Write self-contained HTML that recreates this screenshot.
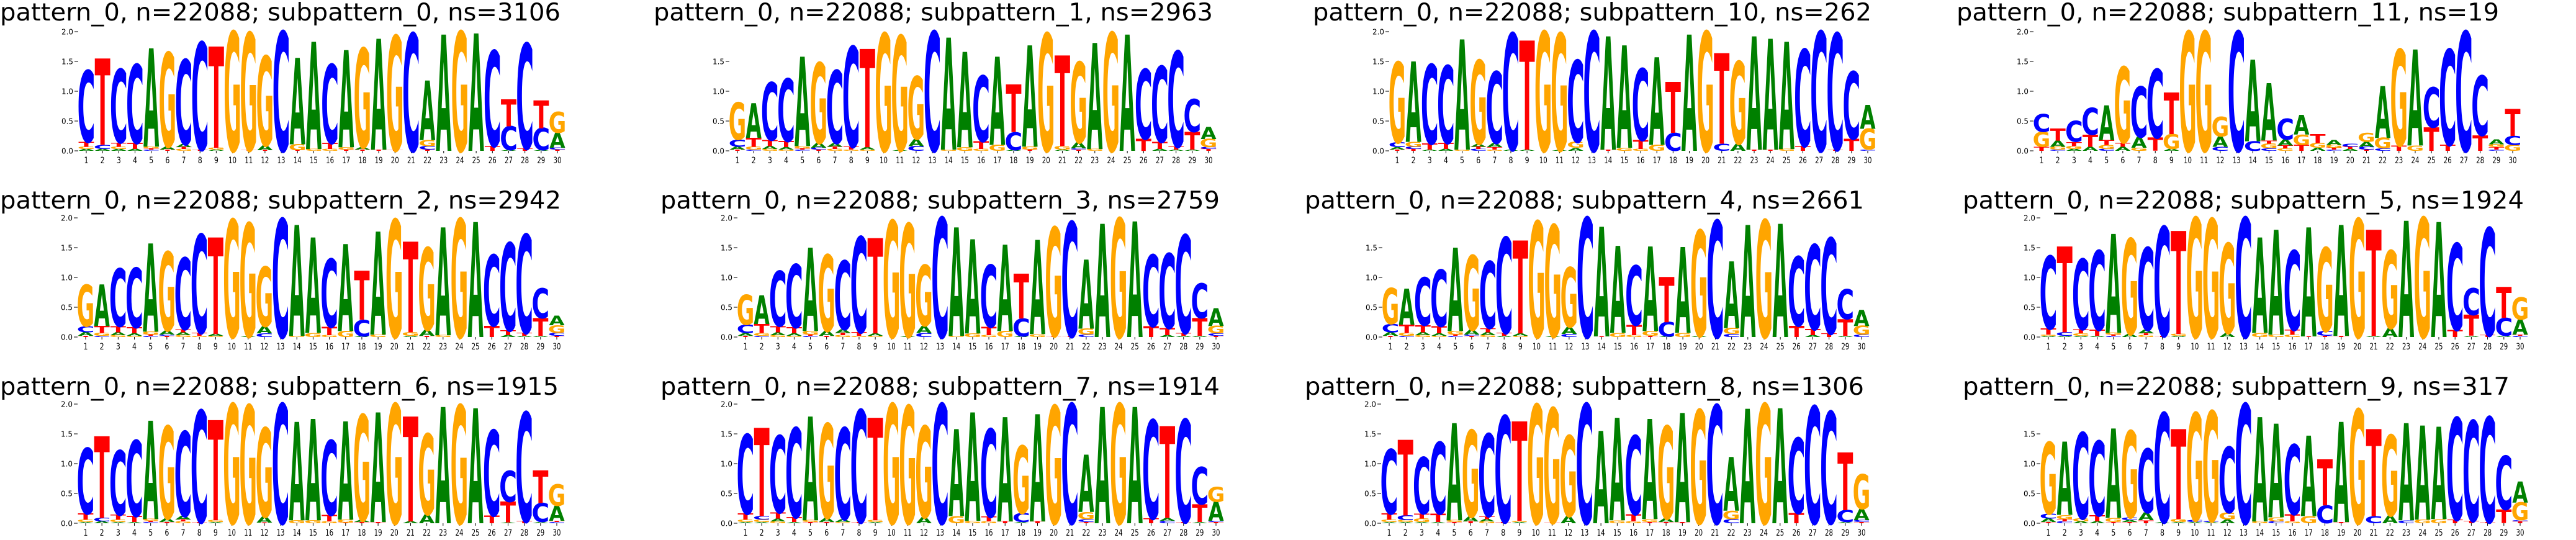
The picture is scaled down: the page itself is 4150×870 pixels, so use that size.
<!DOCTYPE html>
<html><head><meta charset="utf-8">
<style>
html,body{margin:0;padding:0;background:#fff;width:4150px;height:870px;overflow:hidden}
svg{display:block}
</style></head>
<body>
<svg id="fig" xmlns="http://www.w3.org/2000/svg" width="4150" height="870" viewBox="0 0 4150 870"></svg>
<script>
const positions = ["1","2","3","4","5","6","7","8","9","10","11","12","13","14","15","16","17","18","19","20","21","22","23","24","25","26","27","28","29","30"];
const yTickValues = [0, 0.5, 1.0, 1.5, 2.0];
const yTickLabels = ["0.0","0.5","1.0","1.5","2.0"];

const sub0 = ["A.03G.04T.08C1.2","A.03C.07T1.45","A.03G.04T.07C1.23","A.03T.1C1.32","C.02T.02G.03A1.65","T.02A.05G1.58","G.03T.03A.05C1.42","T.02C1.8","A.02G.03T1.7","G2.0","T.01G1.97","T.01A.08G1.5","C2.0","T.01G.1A1.45","G.03A1.8","G.03T.1C1.32","T.02G.04A1.63","T.02A.04G1.66","T.02A1.86","T.01G1.92","C1.97","T.02C.06G.1A1.0","A1.95","G2.0","A1.97","T.08C1.6","A.01C.4T.45","T.04C1.76","A.01C.37T.47","T.02C.03A.25G.35"];
const sub1 = ["T.02A.05C.12G.62","C.02G.05T.15A.58","G.03A.05T.1C.97","G.02A.04T.1C1.05","C.02T.02G.04A1.5","T.02C.03A.08G1.35","G.03T.04A.06C1.22","G.02T.05C1.68","G.02A.04T1.65","G1.97","A.01G1.92","C.08A.12G1.05","C2.0","G.02A1.88","G.06A1.6","G.03T.13C1.1","G.1A1.48","A.01C.3T.8","T.02G.05A1.7","G1.97","A.02G.06T1.52","T.02C.02A.1G1.35","G.03A1.78","G1.98","A1.95","T.2C1.17","A.03T.12C1.27","A.02T.05C1.6","A.02T.3C.55","T.03C.03G.14A.2"];
const sub10 = ["T.02A.04C.08G1.35","T.03C.04G.08A1.35","A.02T.1C1.33","A.03T.1C1.3","G.02A1.85","C.03T.04A.05G1.4","G.02T.04A.07C1.2","A.02C1.95","A.02T1.83","G2.0","A.01G1.96","A.05G.1C1.37","C2.0","T.02A1.9","G.05A1.72","G.03T.15C1.2","G.1A1.47","C.3T.85","A1.95","G2.0","C.12T1.52","A.12G1.38","T.02A1.9","T.02A1.86","G.03A1.8","T.08C1.62","C2.0","T.02C1.95","T.2C1.13","C.02G.35A.4"];
const sub11 = ["T.07G.25C.3","C.02G.05A.1T.2","A.03G.05T.07C.35","A.07T.2C.45","C.03G.07T.08A.58","A.07T.07G1.27","G.05A.18C.85","T.22C1.15","A.03G.25T.7","G2.0","G2.0","C.07A.17G.33","C2.0","C.16A1.37","C.04G.08T.05A.96","G.04T.05A.1C.35","T.1G.17A.33","A.05G.08T.15","C.02T.03G.05A.08","A.03T.04C.05","T.02C.05A.08G.15","C.04G.18A.87","T.09G1.61","G.09A1.61","T.39C.67","T.1C1.6","C2.0","T.26C1.0","C.02T.04G.05A.08","G.1C.15T.45"];
const sub2 = ["T.02A.06C.1G.7","C.02G.05T.12A.7","G.03A.05T.1C.97","G.02A.04T.1C1.0","C.02T.02G.05A1.48","T.02C.02A.07G1.32","G.03A.05T.05C1.2","G.02T.05C1.65","G.02A.03T1.62","G1.97","A.01G1.9","C.06A.12G1.0","C1.98","G.02A1.86","G.07A1.6","G.03T.14C1.14","G.1A1.46","A.01C.28T.82","G.04A1.73","G1.97","A.02G.06T1.52","T.02A.1G1.38","G.03A1.81","G1.98","A1.93","T.19C1.19","A.03T.08C1.47","A.02T.05C1.65","A.02T.3C.5","T.02C.05G.13A.16"];
const sub3 = ["T.02A.05C.14G.5","C.02G.05T.15A.48","G.03A.05T.1C.92","G.02A.04T.1C1.06","C.02T.02G.06A1.4","T.02A.08G1.28","G.03T.04A.06C1.15","G.02T.06C1.6","G.02A.04T1.6","G1.95","A.01G1.89","C.07A.12G1.02","C2.0","G.02A1.82","G.06A1.58","G.03T.14C1.04","G.1A1.45","A.01C.3T.75","G.05A1.58","T.02G1.82","T.01C1.92","C.04G.1A1.16","A1.9","G1.99","A1.94","T.18C1.2","A.03T.12C1.25","A.02T.05C1.64","A.02T.3C.58","T.02C.04G.13A.3"];
const sub4 = ["T.02A.06C.14G.6","C.02G.05T.14A.6","G.03A.05T.12C.8","G.02A.04T.12C.95","C.02T.02G.06A1.4","T.02C.02A.08G1.25","G.03A.05T.07C1.12","A.02T.05C1.6","G.02A.04T1.56","G1.94","A.01G1.87","C.05A.12G1.0","C2.0","T.01A1.84","G.07A1.46","G.03T.17C1.0","T.02G.08A1.42","A.01C.24T.76","G.07A1.44","A.02G1.77","C1.95","C.05G.1A1.12","A1.88","G1.96","A1.9","T.19C1.16","A.03T.1C1.42","T.06C1.6","A.02T.28C.5","C.04G.15A.27"];
const sub5 = ["A.02G.02T.1C1.22","A.02C.06T1.44","A.02G.04T.07C1.18","A.02T.1C1.33","C.02T.02G.03A1.66","A.05G1.6","G.03T.03A.06C1.38","T.02C1.83","A.02G.03T1.73","G2.0","G1.98","A.07G1.5","C2.0","G.07A1.6","G.04A1.76","G.04T.08C1.33","T.01A1.83","T.02C.08G1.4","T.02A1.86","G1.98","A.02T1.78","A.15G1.3","A1.95","G2.0","A1.93","T.12C1.45","A.02T.35C.45","T.03C1.8","A.02C.3T.52","C.02T.02A.25G.37"];
const sub6 = ["A.02G.04T.1C1.1","A.03C.06T1.37","A.02G.04T.08C1.08","A.02T.1C1.27","C.02T.02G.03A1.65","T.02A.06G1.55","G.03T.03A.06C1.42","T.02C1.87","A.02G.03T1.68","G2.0","G1.98","T.01A.1G1.49","C2.0","G.05A1.65","G.05A1.7","G.03T.11C1.25","T.01G.05A1.65","T.02A.03G1.77","T.02A1.84","G2.0","A.03T1.76","A.15G1.35","A1.95","G1.98","A1.93","T.13C1.43","A.01T.35C.52","T.03C1.83","A.02C.32T.55","C.02T.02A.25G.36"];
const sub7 = ["A.02G.04T.1C1.33","A.02G.04C.06T1.48","G.03A.05T.1C1.29","A.02T.08C1.5","T.02G.03A1.74","T.02A.07G1.58","G.02A.05C1.53","T.02C1.88","A.02G.03T1.72","G2.0","G1.97","A.1G1.53","C2.0","G.12A1.46","G.04A1.82","G.03T.08C1.47","T.03A1.75","A.02C.15G1.13","T.03A1.8","G1.97","C2.0","T.02C.05G.12A.96","A1.95","G2.0","A1.95","T.08C1.65","C.04A.05T1.54","T.02C1.72","A.02T.3C.62","T.02C.02A.32G.25"];
const sub8 = ["A.02G.04T.1C1.08","A.02G.03C.08T1.27","A.02G.06T.08C.95","A.02T.14C1.2","T.02G.03A1.63","T.03A.08G1.45","G.03A.04T.05C1.38","T.02C1.78","A.02G.02T1.67","G1.99","T.01G1.92","A.12G1.35","C2.0","A1.55","G.05A1.72","G.03T.12C1.32","T.02G.05A1.68","T.02A.06G1.55","T.02A1.83","G1.9","C1.98","C.07G.14A.9","A1.92","G2.0","A1.93","T.17C1.26","C1.96","C1.87","A.02C.2T.97","T.02C.03A.19G.58"];
const sub9 = ["T.02A.06C.08G1.2","C.03T.04G.07A1.23","A.03G.05C1.44","A.03T.1C1.25","T.02G.07A1.5","T.02A.03C.05G1.45","T.05A.13C1.07","A.02C1.83","A.02G.05T1.51","A.02C.03G1.8","A.02C.02G1.84","A.06G.12C1.1","C2.0","G.03A1.75","C.03G.07A1.57","G.03T.12C1.17","G.12A1.35","C.3T.77","T.02A1.68","G1.91","C.12T1.46","A.13G1.35","C.05A1.63","G.06A1.58","G.07A1.55","T.06C1.71","T.04C1.68","T.02C1.76","T.23C.9","T.03C.02G.3A.35"];

const panelData = [sub0, sub1, sub10, sub11, sub2, sub3, sub4, sub5, sub6, sub7, sub8, sub9];
const panelTitles = [
 "pattern_0, n=22088; subpattern_0, ns=3106","pattern_0, n=22088; subpattern_1, ns=2963",
 "pattern_0, n=22088; subpattern_10, ns=262","pattern_0, n=22088; subpattern_11, ns=19",
 "pattern_0, n=22088; subpattern_2, ns=2942","pattern_0, n=22088; subpattern_3, ns=2759",
 "pattern_0, n=22088; subpattern_4, ns=2661","pattern_0, n=22088; subpattern_5, ns=1924",
 "pattern_0, n=22088; subpattern_6, ns=1915","pattern_0, n=22088; subpattern_7, ns=1914",
 "pattern_0, n=22088; subpattern_8, ns=1306","pattern_0, n=22088; subpattern_9, ns=317"];
const panelNames = ["sub0","sub1","sub10","sub11","sub2","sub3","sub4","sub5","sub6","sub7","sub8","sub9"];

const layout = [
 {p1:139,p30:898,y0:243,tx0:0,tx1:903,ty:33,top:true},
 {p1:1188,p30:1947,y0:243,tx0:1053,tx1:1954,ty:33,top:false},
 {p1:2251,p30:3009,y0:243,tx0:2115,tx1:3015,ty:33,top:true},
 {p1:3289,p30:4048,y0:243,tx0:3152,tx1:4026,ty:33,top:true},
 {p1:138,p30:897,y0:543,tx0:0,tx1:904,ty:336,top:true},
 {p1:1201,p30:1959,y0:543,tx0:1064,tx1:1965,ty:336,top:true},
 {p1:2240,p30:2999,y0:543,tx0:2102,tx1:3003,ty:336,top:false},
 {p1:3300,p30:4060,y0:543,tx0:3162,tx1:4066,ty:336,top:true},
 {p1:138,p30:897,y0:843,tx0:0,tx1:900,ty:636,top:true},
 {p1:1201,p30:1959,y0:843,tx0:1064,tx1:1965,ty:636,top:true},
 {p1:2238,p30:2999,y0:843,tx0:2102,tx1:3003,ty:636,top:true},
 {p1:3300,p30:4060,y0:843,tx0:3162,tx1:4043,ty:636,top:false}
];
const COLORS = {A:"#008000",C:"#0000ff",G:"#ffa500",T:"#ff0000"};
const INK = {A:0.77,C:0.64,G:0.72,T:0.68};
const PXBIT = 96;
const NS = "http://www.w3.org/2000/svg";
const svg = document.getElementById('fig');

function mk(tag, attrs, parent){
  const e = document.createElementNS(NS, tag);
  for (const k in attrs) e.setAttribute(k, attrs[k]);
  parent.appendChild(e);
  return e;
}
function parseStack(s){
  const out=[]; const re=/([ACGT])([\d.]+)/g; let m;
  while((m=re.exec(s))) out.push([m[1], parseFloat(m[2])]);
  return out;
}

panelData.forEach((data, pi) => {
  const L = layout[pi];
  const pitch = (L.p30 - L.p1) / (positions.length - 1);
  const xs = i => L.p1 + i * pitch;
  const ys = v => L.y0 - v * PXBIT;
  const g = mk('g', {}, svg);
  
  

  const t = mk('text', {x:L.tx0, y:L.ty, 'font-family':'"DejaVu Sans","Liberation Sans",sans-serif', 'font-size':39, fill:'#000', textLength:(L.tx1-L.tx0), lengthAdjust:'spacingAndGlyphs'}, g);
  
  
  t.textContent = panelTitles[pi];

  yTickValues.forEach((v, k) => {
    if (v === 2.0 && !L.top) return;
    const y = ys(v);
    const tk = mk('line', {x1:L.p1-19, x2:L.p1-13, y1:y, y2:y, stroke:'#000', 'stroke-width':1}, g);
    
    
    const lb = mk('text', {x:L.p1-21, y:y+4.5, 'text-anchor':'end', 'font-family':'"DejaVu Sans",sans-serif', 'font-size':12, textLength:19, lengthAdjust:'spacingAndGlyphs', fill:'#000'}, g);
    
    
    lb.textContent = yTickLabels[k];
  });

  positions.forEach((p, i) => {
    const x = xs(i);
    const tk = mk('line', {x1:x, x2:x, y1:L.y0, y2:L.y0+4, stroke:'#000', 'stroke-width':1}, g);
    
    
    const lb = mk('text', {x:x, y:L.y0+20, 'text-anchor':'middle', 'font-family':'"DejaVu Sans",sans-serif', 'font-size':14, fill:'#000', textLength:(p.length > 1 ? 13 : 7), lengthAdjust:'spacingAndGlyphs'}, g);
    
    
    lb.textContent = p;
  });

  data.forEach((s, i) => {
    const stack = parseStack(s);
    let base = 0;
    const cx = xs(i);
    const w = pitch * 0.96;
    stack.forEach(([letter, h]) => {
      const yb = ys(base), yt = ys(base + h);
      const hp = yb - yt;
      base += h;
      if (hp < 0.3) return;
      const sx = w / (INK[letter] * 100);
      const sy = hp / 72.9;
      const lt = mk('text', {x:0, y:0, 'text-anchor':'middle', 'font-family':'"DejaVu Sans","Liberation Sans",sans-serif', 'font-weight':'bold', 'font-size':100, fill:COLORS[letter], transform:'translate(' + cx.toFixed(2) + ',' + yb.toFixed(2) + ') scale(' + sx.toFixed(4) + ',' + sy.toFixed(4) + ')'}, g);
      
      
      lt.textContent = letter;
    });
  });
});
</script>
</body></html>
